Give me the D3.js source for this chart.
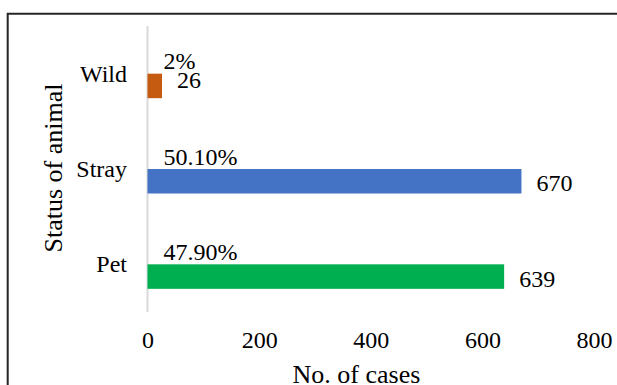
<!DOCTYPE html>
<html>
<head>
<meta charset="utf-8">
<script src="https://cdn.jsdelivr.net/npm/d3@7"></script>
<style>
  html, body { margin: 0; padding: 0; background: #fff; }
  svg { display: block; }
</style>
</head>
<body>
<svg id="chart" width="617" height="385" font-family="Liberation Serif"></svg>
<script>
// Cases by animal status
const categories = ["Wild", "Stray", "Pet"];
const cases = [26, 670, 639];
const shares = ["2%", "50.10%", "47.90%"];
const barColors = ["#C55A11", "#4472C4", "#00B050"];
const xTicks = [0, 200, 400, 600, 800];

const W = 617, H = 385;
const svg = d3.select("#chart");

const x = d3.scaleLinear().domain([0, 800]).range([147.5, 594]);
const y = d3.scaleBand().domain(categories).range([26, 312]).padding(0);

const barH = 24.5;
const labelSize = 24;
const titleSize = 26;

// Frame around the chart area
svg.append("path")
  .attr("d", `M7.7,${H} V13.7 H${W}`)
  .attr("fill", "none")
  .attr("stroke", "#262626")
  .attr("stroke-width", 2);

// Category axis line
svg.append("line")
  .attr("x1", x(0)).attr("x2", x(0))
  .attr("y1", y.range()[0]).attr("y2", y.range()[1])
  .attr("stroke", "#D9D9D9")
  .attr("stroke-width", 2);

const rows = categories.map((c, i) => ({
  cat: c, value: cases[i], share: shares[i], color: barColors[i]
}));

// Bars sit in the lower half of each category band
const mid = d => y(d.cat) + y.bandwidth() / 2;

svg.append("g").selectAll("rect")
  .data(rows)
  .join("rect")
  .attr("x", x(0))
  .attr("y", d => mid(d))
  .attr("width", d => x(d.value) - x(0))
  .attr("height", barH)
  .attr("fill", d => d.color);

// Text layer shares one serif face
const labels = svg.append("g")
  .attr("font-family", "Liberation Serif")
  .attr("font-size", labelSize)
  .attr("fill", "#000");

// Share labels above each bar
labels.append("g").selectAll("text")
  .data(rows)
  .join("text")
  .attr("x", x(0) + 16)
  .attr("y", d => mid(d) - 4.5)
  .text(d => d.share);

// Count labels at the bar ends; short bars stack them closer under the share label
labels.append("g").selectAll("text")
  .data(rows)
  .join("text")
  .attr("x", d => x(d.value) + 15)
  .attr("y", d => (x(d.value) - x(0)) < 60 ? mid(d) + 14.5 : mid(d) + barH / 2 + 10)
  .text(d => d.value);

// Category labels
labels.append("g").selectAll("text")
  .data(categories)
  .join("text")
  .attr("x", 127)
  .attr("y", d => y(d) + y.bandwidth() / 2)
  .attr("dy", "0.33em")
  .attr("text-anchor", "end")
  .text(d => d);

// Value axis tick labels
const xAxis = d3.axisBottom(x).tickValues(xTicks).tickSize(0).tickPadding(0);
const gx = svg.append("g")
  .attr("transform", "translate(0,348)")
  .call(xAxis)
  .attr("font-family", "Liberation Serif")
  .attr("font-size", labelSize);
gx.select(".domain").remove();
gx.selectAll("text")
  .attr("dy", 0)
  .attr("y", 0)
  .attr("fill", "#000");

// Axis titles
svg.append("text")
  .attr("x", 356.5)
  .attr("y", 383)
  .attr("text-anchor", "middle")
  .attr("font-size", titleSize)
  .text("No. of cases");

svg.append("text")
  .attr("transform", "translate(62,168) rotate(-90)")
  .attr("text-anchor", "middle")
  .attr("font-size", titleSize)
  .text("Status of animal");
</script>
</body>
</html>
